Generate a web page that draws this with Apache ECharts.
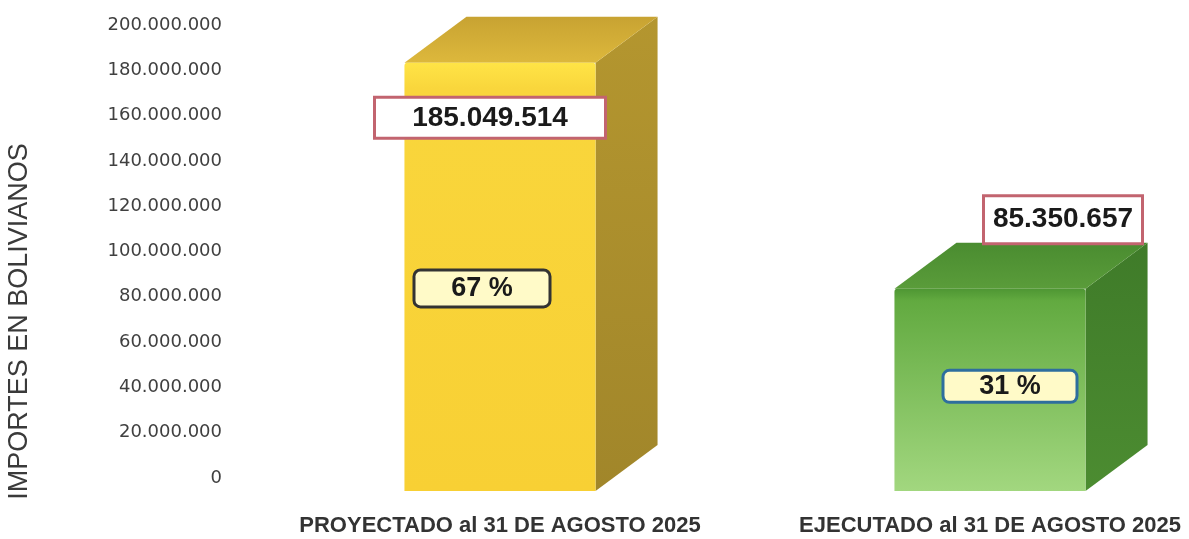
<!DOCTYPE html>
<html>
<head>
<meta charset="utf-8">
<script src="https://cdn.jsdelivr.net/npm/echarts@6/dist/echarts.min.js"></script>
<style>
  html, body { margin: 0; padding: 0; background: #fff; }
  #chart { width: 1189px; height: 539px; }
</style>
</head>
<body>
<div id="chart"></div>
<script>
const categories = ["PROYECTADO al 31 DE AGOSTO 2025", "EJECUTADO al 31 DE AGOSTO 2025"]
const importes = [185049514, 85350657]
const porcentajes = [67, 31]
const yMin = 0
const yMax = 200000000
const yStep = 20000000

// look of each box (front / top / side), label boxes and where they sit
const BOX_STYLE = [
  {
    front: ["#FFE446", "#F9D63C", "#F8D034"],
    top: ["#C8A332", "#DDB83C"],
    side: ["#B4962F", "#A1862A"],
    valueOffset: [-10, 59], valueBox: [228, 38],
    pctOffset: [-18, 20], pctBox: [133, 34], pctBorder: "#333333",
  },
  {
    front: ["#4E9633", "#62AA40", "#A2D77F"],
    top: ["#4A8C30", "#5A9C3A"],
    side: ["#3F7B29", "#4C8C31"],
    valueOffset: [73, -65], valueBox: [156, 45],
    pctOffset: [20, 5], pctBox: [131, 29], pctBorder: "#2E6E9E",
  },
]
const DEPTH = [62, -46]

function fmt(v) {
  return String(v).replace(/\B(?=(\d{3})+(?!\d))/g, ".")
}

function vGrad(stops) {
  return new echarts.graphic.LinearGradient(0, 0, 0, 1,
    stops.map((c, i) => ({ offset: i / (stops.length - 1), color: c })))
}

function renderBox(params, api) {
  const i = params.dataIndex
  const s = BOX_STYLE[i]
  const value = api.value(1)
  const top = api.coord([api.value(0), value])
  const base = api.coord([api.value(0), 0])
  const mid = api.coord([api.value(0), value / 2])
  const w = api.size([1, 0])[0] * 0.39
  const xL = top[0] - w / 2
  const xR = top[0] + w / 2
  const yT = top[1] + 4
  const yB = base[1] + 13
  const [dx, dy] = DEPTH

  return {
    type: "group",
    children: [
      {
        type: "polygon",
        shape: { points: [[xR, yT], [xR + dx, yT + dy], [xR + dx, yB + dy], [xR, yB]] },
        style: { fill: vGrad(s.side) },
      },
      {
        type: "polygon",
        shape: { points: [[xL, yT], [xR, yT], [xR + dx, yT + dy], [xL + dx, yT + dy]] },
        style: { fill: vGrad(s.top) },
      },
      {
        type: "rect",
        shape: { x: xL, y: yT, width: w, height: yB - yT, r: [3, 3, 0, 0] },
        style: { fill: new echarts.graphic.LinearGradient(0, 0, 0, 1, [
          { offset: 0, color: s.front[0] },
          { offset: 0.06, color: s.front[1] },
          { offset: 1, color: s.front[2] },
        ]) },
      },
      {
        type: "text",
        z2: 100,
        x: top[0] + s.pctOffset[0],
        y: mid[1] + s.pctOffset[1],
        style: {
          text: porcentajes[i] + " %",
          font: "bold 27px 'Liberation Sans', sans-serif",
          fill: "#1a1a1a",
          align: "center",
          verticalAlign: "middle",
          width: s.pctBox[0],
          height: s.pctBox[1],
          lineHeight: s.pctBox[1],
          backgroundColor: "#FFFAC8",
          borderColor: s.pctBorder,
          borderWidth: 3,
          borderRadius: 5,
        },
      },
    ],
  }
}

function renderValueLabel(params, api) {
  const i = params.dataIndex
  const s = BOX_STYLE[i]
  const top = api.coord([api.value(0), api.value(1)])
  return {
    type: "text",
    z2: 200,
    x: top[0] + s.valueOffset[0],
    y: top[1] + s.valueOffset[1],
    style: {
      text: fmt(api.value(1)),
      font: "bold 28px 'Liberation Sans', sans-serif",
      fill: "#1a1a1a",
      align: "center",
      verticalAlign: "middle",
      width: s.valueBox[0],
      height: s.valueBox[1],
      lineHeight: s.valueBox[1],
      backgroundColor: "#ffffff",
      borderColor: "#C2646F",
      borderWidth: 3,
    },
  }
}

const chart = echarts.init(document.getElementById("chart"))
const seriesData = importes.map((v, i) => [i, v])

chart.setOption({
  animation: false,
  grid: { left: 255, width: 980, top: 25, bottom: 61, outerBoundsMode: "none", containLabel: false },
  xAxis: {
    type: "category",
    data: categories,
    axisLine: { show: false },
    axisTick: { show: false },
    axisLabel: {
      interval: 0,
      margin: 37,
      color: "#333",
      fontSize: 22,
      fontWeight: "bold",
      fontFamily: "'Liberation Sans', sans-serif",
    },
  },
  yAxis: {
    type: "value",
    min: yMin,
    max: yMax,
    interval: yStep,
    name: "IMPORTES EN BOLIVIANOS",
    nameLocation: "middle",
    nameGap: 222,
    nameTextStyle: {
      color: "#3a3a3a",
      fontSize: 27,
      fontFamily: "'Liberation Sans', sans-serif",
      padding: [0, 140, 0, 0],
    },
    axisLine: { show: false },
    axisTick: { show: false },
    splitLine: { show: false },
    axisLabel: {
      margin: 33,
      color: "#404040",
      fontSize: 18,
      fontFamily: "'DejaVu Sans', sans-serif",
      formatter: fmt,
    },
  },
  series: [
    { type: "custom", renderItem: renderBox, data: seriesData, z: 2 },
    { type: "custom", renderItem: renderValueLabel, data: seriesData, z: 5 },
  ],
})
</script>
</body>
</html>
